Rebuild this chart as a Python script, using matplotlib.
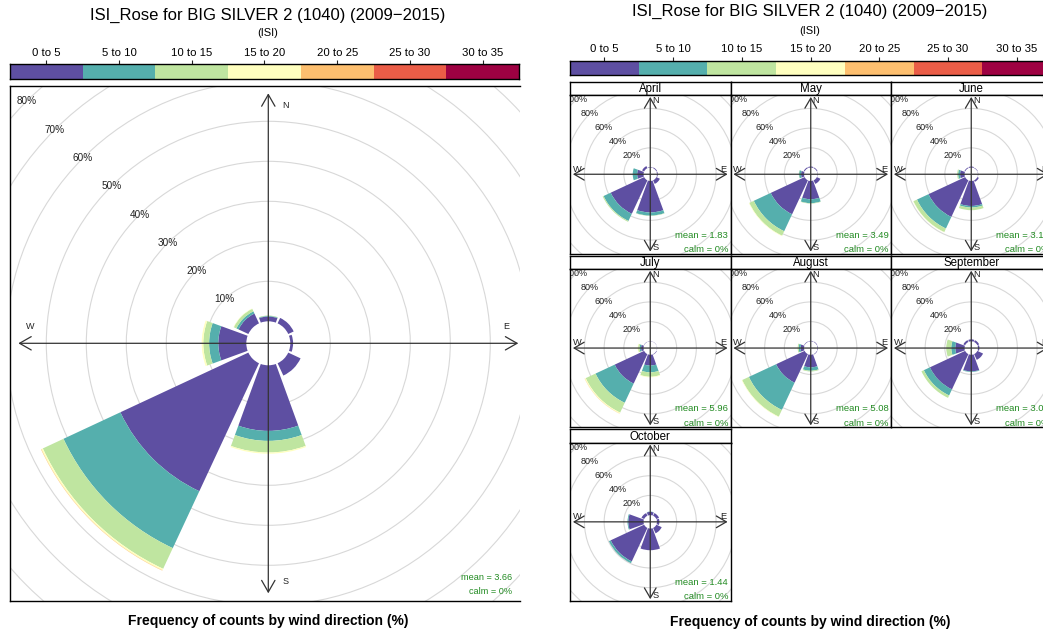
import matplotlib
matplotlib.use("Agg")
import matplotlib.pyplot as plt
from matplotlib.patches import Wedge, Circle
import numpy as np

plt.rcParams['font.family'] = ['Liberation Sans', 'DejaVu Sans']

# ---------------- data ----------------
title = "ISI_Rose for BIG SILVER 2 (1040) (2009\u22122015)"
isi_bands = ["0 to 5", "5 to 10", "10 to 15", "15 to 20", "20 to 25", "25 to 30", "30 to 35"]
band_colors = ["#5E4FA2", "#55AFAD", "#BFE5A0", "#FFFFBF", "#FDBF6F", "#EA5D47", "#9E0142"]
directions = [0, 45, 90, 135, 180, 225, 270, 315]

# whole period: % of counts per ISI band (rows) and direction (columns)
all_0_5 = [1.2, 1.5, 0.7, 3.4, 16.4, 35.3, 7.0, 2.7]
all_5_10 = [0.15, 0.0, 0.0, 0.0, 2.5, 15.7, 2.3, 0.6]
all_10_15 = [0.1, 0.0, 0.0, 0.0, 2.9, 5.7, 1.45, 0.7]
all_15_20 = [0.0, 0.0, 0.0, 0.0, 0.3, 0.4, 0.4, 0.1]
all_20_25 = [0.0, 0.0, 0.0, 0.0, 0.0, 0.1, 0.0, 0.0]
all_mean = 3.66

months = ["April", "May", "June", "July", "August", "September", "October"]
month_means = [1.83, 3.49, 3.12, 5.96, 5.08, 3.05, 1.44]

april = [[0.5, 0.8, 0.8, 4.0, 32.0, 37.5, 6.5, 2.3],
         [0.0, 0.0, 0.0, 0.0, 3.2, 8.0, 4.5, 0.0],
         [0.0, 0.0, 0.0, 0.0, 0.3, 1.0, 0.0, 0.0]]
may = [[1.0, 0.8, 0.3, 4.0, 18.6, 38.0, 3.0, 1.0],
       [0.0, 0.0, 0.0, 0.0, 4.0, 19.0, 2.0, 0.0],
       [0.0, 0.0, 0.0, 0.0, 0.4, 5.0, 0.3, 0.0],
       [0.0, 0.0, 0.0, 0.0, 0.0, 0.5, 0.0, 0.0]]
june = [[1.0, 0.5, 0.3, 1.7, 25.4, 41.0, 4.5, 0.8],
        [0.0, 0.0, 0.0, 0.0, 1.6, 13.0, 2.0, 0.0],
        [0.0, 0.0, 0.0, 0.0, 2.7, 4.0, 1.0, 0.0],
        [0.0, 0.0, 0.0, 0.0, 0.0, 0.3, 0.0, 0.0]]
july = [[0.3, 0.2, 0.2, 0.5, 11.0, 33.0, 2.5, 0.3],
        [0.0, 0.0, 0.0, 0.0, 6.9, 21.5, 1.5, 0.0],
        [0.0, 0.0, 0.0, 0.0, 4.4, 11.0, 1.5, 0.0],
        [0.0, 0.0, 0.0, 0.0, 0.6, 1.0, 0.5, 0.0],
        [0.0, 0.0, 0.0, 0.0, 0.0, 0.2, 0.0, 0.0]]
august = [[0.5, 0.5, 0.5, 0.5, 12.8, 32.0, 3.5, 0.5],
          [0.0, 0.0, 0.0, 0.0, 3.4, 30.5, 2.0, 0.0],
          [0.0, 0.0, 0.0, 0.0, 0.8, 7.5, 1.0, 0.0],
          [0.0, 0.0, 0.0, 0.0, 0.0, 0.5, 0.0, 0.0]]
september = [[2.0, 2.0, 1.5, 6.4, 16.9, 39.5, 9.4, 2.0],
             [0.0, 0.0, 0.0, 0.0, 0.6, 6.8, 4.1, 0.0],
             [0.0, 0.0, 0.0, 0.0, 0.0, 2.7, 5.1, 0.0]]
october = [[3.3, 3.0, 2.5, 6.0, 22.0, 37.5, 15.5, 3.0],
           [0.3, 0.0, 0.0, 0.0, 0.0, 2.0, 0.8, 0.0]]
month_data = [april, may, june, july, august, september, october]

main_rings = [10, 20, 30, 40, 50, 60, 70, 80]
panel_rings = [20, 40, 60, 80, 100]

# ---------------- layout helpers ----------------
W, H = 1043, 633
fig = plt.figure(figsize=(W / 100, H / 100), dpi=100)
GREEN = "forestgreen"
AXC = "#333333"


def px_axes(x0, y0, x1, y1):
    return fig.add_axes([x0 / W, 1 - y1 / H, (x1 - x0) / W, (y1 - y0) / H])


def ftext(x, y, s, **kw):
    fig.text(x / W, 1 - y / H, s, **kw)


def draw_rose(ax, bands, hole, half_width=20):
    cum = np.zeros(len(directions))
    for band, col in zip(bands, band_colors):
        vals = np.asarray(band, dtype=float)
        for d, c0, v in zip(directions, cum, vals):
            if v <= 0:
                continue
            t1 = 90 - d - half_width
            t2 = 90 - d + half_width
            ax.add_patch(Wedge((0, 0), hole + c0 + v, t1, t2, width=v,
                               facecolor=col, edgecolor='none', zorder=3))
        cum = cum + vals


def draw_frame(ax, hole, rings, arrow_len, lab_along, lab_off, ring_fs,
               comp_fs, head):
    for p in rings:
        r = hole + p
        ax.add_patch(Circle((0, 0), r, fill=False, edgecolor="#D8D8D8",
                            lw=0.8, zorder=1))
        ax.text(-r * np.sin(np.pi / 4), r * np.cos(np.pi / 4), f"{p}%",
                ha='center', va='center', fontsize=ring_fs, color="#222222",
                zorder=2, clip_on=True)
    style = f"<->,head_length={head[0]},head_width={head[1]}"
    ax.annotate("", xy=(0, arrow_len), xytext=(0, -arrow_len),
                arrowprops=dict(arrowstyle=style, color=AXC, lw=0.9,
                                shrinkA=0, shrinkB=0, mutation_scale=12),
                zorder=4)
    ax.annotate("", xy=(arrow_len, 0), xytext=(-arrow_len, 0),
                arrowprops=dict(arrowstyle=style, color=AXC, lw=0.9,
                                shrinkA=0, shrinkB=0, mutation_scale=12),
                zorder=4)
    for lab, (x, y) in {"N": (lab_off, lab_along), "S": (lab_off, -lab_along),
                        "W": (-lab_along, lab_off), "E": (lab_along, lab_off)}.items():
        ax.text(x, y, lab, ha='center', va='center', fontsize=comp_fs,
                color="#222222", zorder=5)


def draw_key(x0, x1, y0, y1, lab_pad):
    ax = px_axes(x0, y0, x1, y1)
    ax.bar(np.arange(len(isi_bands)), 1, width=1.0, color=band_colors,
           align='center')
    ax.set_xlim(-0.5, len(isi_bands) - 0.5)
    ax.set_ylim(0, 1)
    ax.xaxis.tick_top()
    ax.set_xticks(np.arange(len(isi_bands)))
    ax.set_xticklabels(isi_bands, fontsize=8.2)
    ax.tick_params(axis='x', direction='out', length=3, width=0.8,
                   pad=lab_pad, color="#222222")
    ax.set_yticks([])
    for sp in ax.spines.values():
        sp.set_linewidth(1.0)
    return ax


# ---------------- left: whole period ----------------
ftext(268, 15, title, ha='center', va='center', fontsize=12)
ftext(268, 33, "(ISI)", ha='center', va='center', fontsize=8)
draw_key(10, 519, 64, 79, 1.5)

cx, cy, s = 268.3, 343.3, 4.0
bx0, by0, bx1, by1 = 10, 86, 520, 601
ax = px_axes(bx0, by0, bx1, by1)
ax.set_xlim((bx0 - cx) / s, (bx1 - cx) / s)
ax.set_ylim((cy - by1) / s, (cy - by0) / s)
ax.set_xticks([]); ax.set_yticks([])
ax.spines['right'].set_visible(False)
for k in ('left', 'top', 'bottom'):
    ax.spines[k].set_linewidth(1.0)
main_hole = 5.5
draw_frame(ax, main_hole, main_rings, 62.5, 59.5, 4.2, 7.2, 6.5, (0.7, 0.4))
draw_rose(ax, [all_0_5, all_5_10, all_10_15, all_15_20, all_20_25], main_hole)
ftext(512, 577, f"mean = {all_mean:.2f}", ha='right', va='center',
      fontsize=6.6, color=GREEN)
ftext(512, 591, "calm = 0%", ha='right', va='center', fontsize=6.6, color=GREEN)
ftext(268, 621, "Frequency of counts by wind direction (%)", ha='center',
      va='center', fontsize=10, fontweight='bold')

# ---------------- right: by month ----------------
ftext(810, 11, title, ha='center', va='center', fontsize=12)
ftext(810, 31, "(ISI)", ha='center', va='center', fontsize=8)
draw_key(570, 1051, 60.7, 75, 1.5)

col_w, strip_h, panel_h, row_pitch = 160.5, 13.3, 158.5, 173.8
ps = 0.985
panel_hole = 6.8
for i, (mname, mdata, mmean) in enumerate(zip(months, month_data, month_means)):
    r, c = divmod(i, 3)
    x0 = 570 + c * col_w
    x1 = x0 + col_w
    sy0 = 81.7 + r * row_pitch
    sy1 = sy0 + strip_h
    py1 = sy1 + panel_h
    sax = px_axes(x0, sy0, x1, sy1)
    sax.set_xticks([]); sax.set_yticks([])
    sax.set_facecolor("white")
    sax.text(0.5, 0.45, mname, ha='center', va='center', fontsize=8.3,
             transform=sax.transAxes)
    pax = px_axes(x0, sy1, x1, py1)
    hw = (col_w / 2) / ps
    hh = (panel_h / 2) / ps
    pax.set_xlim(-hw, hw)
    pax.set_ylim(-hh, hh)
    pax.set_xticks([]); pax.set_yticks([])
    for sp in list(pax.spines.values()) + list(sax.spines.values()):
        sp.set_linewidth(1.0)
    draw_frame(pax, panel_hole, panel_rings, 78.5, 74.5, 5.3, 6.5, 6.7,
               (0.6, 0.35))
    draw_rose(pax, mdata, panel_hole)
    ftext(x1 - 2.3, py1 - 18.5, f"mean = {mmean:.2f}", ha='right', va='center',
          fontsize=6.8, color=GREEN)
    ftext(x1 - 2.3, py1 - 4.3, "calm = 0%", ha='right', va='center',
          fontsize=6.8, color=GREEN)

ftext(810, 622, "Frequency of counts by wind direction (%)", ha='center',
      va='center', fontsize=10, fontweight='bold')

fig.savefig("out.png", dpi=100)
